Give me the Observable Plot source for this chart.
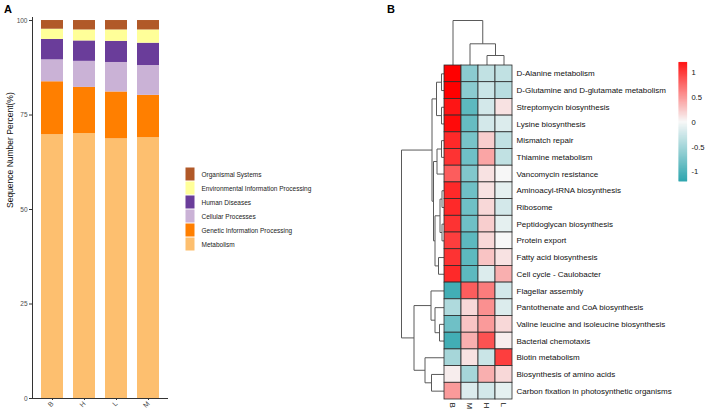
<!DOCTYPE html>
<html><head><meta charset="utf-8">
<script src="https://cdn.jsdelivr.net/npm/d3@7"></script>
<script src="https://cdn.jsdelivr.net/npm/@observablehq/plot@0.6"></script>
<style>
body{margin:0;background:#fff;font-family:"Liberation Sans",Arial,sans-serif;}
#wrap{position:relative;width:708px;height:416px;overflow:hidden;background:#fff}
.abs{position:absolute}
.abs svg{overflow:visible}
.tag{position:absolute;font-weight:bold;font-size:11px;font-family:"Liberation Sans",Arial,sans-serif}
</style></head><body>
<div id="wrap">
<div class="tag" style="left:4px;top:3px">A</div>
<div class="tag" style="left:387px;top:3px">B</div>
</div>
<script>
// ---------- Panel A data ----------
const samples = ["B","H","L","M"];
const categories = ["Metabolism","Genetic Information Processing","Cellular Processes","Human Diseases","Environmental Information Processing","Organismal Systems"]; // bottom -> top
const catColors = ["#FDBF6F","#FF7F00","#CAB2D6","#6A3D9A","#FFFF99","#B15928"];
const metabolism    = [69.8, 70.1, 68.7, 69.0];
const genetic       = [14.0, 12.2, 12.4, 11.2];
const cellular      = [5.8, 6.9, 7.8, 7.9];
const human         = [5.4, 5.4, 5.6, 5.9];
const environmental = [2.7, 2.9, 3.0, 3.5];
const organismal    = [2.3, 2.5, 2.5, 2.5];
const yTicksA = [0, 25, 50, 75, 100];
const yTitleA = "Sequence Number Percent(%)";

// ---------- Panel B data ----------
const pathways = ["D-Alanine metabolism","D-Glutamine and D-glutamate metabolism","Streptomycin biosynthesis","Lysine biosynthesis","Mismatch repair","Thiamine metabolism","Vancomycin resistance","Aminoacyl-tRNA biosynthesis","Ribosome","Peptidoglycan biosynthesis","Protein export","Fatty acid biosynthesis","Cell cycle - Caulobacter","Flagellar assembly","Pantothenate and CoA biosynthesis","Valine leucine and isoleucine biosynthesis","Bacterial chemotaxis","Biotin metabolism","Biosynthesis of amino acids","Carbon fixation in photosynthetic organisms"];
const hmColumns = ["B","M","H","L"];
const zB = [1.2, 1.2, 1.1, 1.15, 1.0, 0.95, 0.75, 1.0, 1.0, 0.95, 0.9, 0.95, 1.0, -1.0, -0.4, -0.75, -1.0, -0.45, 0.05, 0.45];
const zM = [-0.6, -0.6, -0.85, -0.8, -0.7, -0.75, -0.65, -0.75, -0.75, -0.75, -0.85, -0.85, -0.85, 0.75, 0.15, 0.25, 0.35, 0.1, -0.45, -0.15];
const zH = [-0.3, -0.25, -0.2, -0.2, 0.2, 0.4, 0.1, 0.1, 0.15, 0.2, 0.15, 0.25, -0.15, 0.6, 0.5, 0.45, 0.8, -0.25, 0.35, -0.2];
const zL = [-0.3, -0.35, 0.1, -0.15, -0.3, -0.3, 0.0, -0.1, -0.2, -0.1, 0.0, 0.1, 0.35, -0.2, -0.15, 0.15, 0.05, 0.9, 0.15, -0.1];
// hclust-style merges: negative = leaf (1-based), positive = earlier merge (1-based), then height
const rowMerges = [
  [-1,-2,3],[-3,-4,3],[1,2,8],[-5,-6,3],[4,-7,7.5],[-8,-9,2.5],[-10,-11,2.5],[6,7,4.5],
  [-12,-13,6],[8,9,9.5],[5,10,11],[3,11,12.5],[-16,-17,5],[-15,13,9.5],[-14,14,13.5],
  [-19,-20,13],[-18,16,19.5],[15,17,30.5],[12,18,43]
];
const colMerges = [[-3,-4,10],[-2,1,21.7],[-1,2,45]];
const legendTicks = [-1, -0.5, 0, 0.5, 1];

// ---------- helpers ----------
const colorSpec = {type:"linear", domain:[-1.2,0,1.2], range:["#1E9FA8","#F7F7F7","#FF0000"], clamp:true};
function dendroSegments(merges){
  const pos=[], hgt=[], segs=[];
  const P = k => k<0 ? (-k-1)+0.5 : pos[k-1];
  const H = k => k<0 ? 0 : hgt[k-1];
  merges.forEach(([a,b,h])=>{
    const pa=P(a), pb=P(b);
    segs.push({p1:pa,h1:H(a),p2:pa,h2:h});
    segs.push({p1:pb,h1:H(b),p2:pb,h2:h});
    segs.push({p1:pa,h1:h,p2:pb,h2:h});
    pos.push((pa+pb)/2); hgt.push(h);
  });
  return segs;
}
function place(node, left, top){
  const d=document.createElement("div"); d.className="abs";
  d.style.left=left+"px"; d.style.top=top+"px";
  d.appendChild(node); document.getElementById("wrap").appendChild(d);
}

// ---------- Panel A ----------
const series = [metabolism, genetic, cellular, human, environmental, organismal];
const stackData = samples.flatMap((s,i)=>categories.map((c,j)=>({sample:s, category:c, value:series[j][i]})));
const plotA = Plot.plot({
  width:175, height:416, marginLeft:32, marginRight:7, marginTop:17, marginBottom:18,
  style:{fontFamily:"'Liberation Sans',Arial,sans-serif", background:"transparent"},
  x:{domain:samples, paddingInner:0.3, paddingOuter:0.23},
  y:{domain:[0,100.8]},
  color:{domain:categories, range:catColors},
  marks:[
    Plot.barY(stackData,{x:"sample", y:"value", fill:"category", order:categories}),
    Plot.axisY({ticks:yTicksA, tickSize:3, tickPadding:2, fontSize:6.5, fill:"#4d4d4d", stroke:"#333", label:null}),
    Plot.axisX({tickRotate:-45, tickSize:2, tickPadding:2, fontSize:7, fill:"#4d4d4d", stroke:"#333", label:null}),
    Plot.ruleY([0],{stroke:"#333"}),
    Plot.frame({anchor:"left", stroke:"#333"}),
    Plot.text([yTitleA],{frameAnchor:"left", rotate:-90, dx:-22, fontSize:8.5, fill:"#111", text:d=>d})
  ]
});
place(plotA, 0, 0);

// legend A
const legendOrder = categories.slice().reverse();
const legA = Plot.plot({
  width:200, height:84, marginLeft:0, marginRight:0, marginTop:0, marginBottom:0,
  style:{fontFamily:"'Liberation Sans',Arial,sans-serif", background:"transparent"},
  x:{domain:["s"], range:[0,13], axis:null},
  y:{domain:legendOrder, range:[0,84], padding:0, axis:null},
  color:{domain:categories, range:catColors},
  marks:[
    Plot.cell(legendOrder,{x:()=>"s", y:d=>d, fill:d=>d, inset:0.5}),
    Plot.text(legendOrder,{y:d=>d, frameAnchor:"left", dx:18, textAnchor:"start", fontSize:6.5, fill:"#222", text:d=>d})
  ]
});
place(legA, 183, 167);

// ---------- Panel B ----------
const rowTreeUnits = 2.53, colTreeUnits = 2.695;
const maxRowH = d3.max(rowMerges, d=>d[2]), maxColH = d3.max(colMerges, d=>d[2]);
const kRow = rowTreeUnits/maxRowH, kCol = colTreeUnits/maxColH;
const rowSegs = dendroSegments(rowMerges), colSegs = dendroSegments(colMerges);
const zCols = [zB, zM, zH, zL];
const cells = pathways.flatMap((p,r)=>hmColumns.map((c,ci)=>({r, c:ci, v:zCols[ci][r]})));
const plotB = Plot.plot({
  width:328, height:416, marginLeft:21, marginRight:196, marginTop:20, marginBottom:17,
  style:{fontFamily:"'Liberation Sans',Arial,sans-serif", background:"transparent"},
  x:{domain:[-rowTreeUnits,4], axis:null},
  y:{domain:[20,-colTreeUnits], axis:null},
  color:colorSpec,
  marks:[
    Plot.link(rowSegs,{x1:d=>-d.h1*kRow, y1:"p1", x2:d=>-d.h2*kRow, y2:"p2", stroke:"#5a5a5a", strokeWidth:1}),
    Plot.link(colSegs,{x1:"p1", y1:d=>-d.h1*kCol, x2:"p2", y2:d=>-d.h2*kCol, stroke:"#5a5a5a", strokeWidth:1}),
    Plot.rect(cells,{x1:d=>d.c, x2:d=>d.c+1, y1:d=>d.r, y2:d=>d.r+1, fill:"v", stroke:"#2b2b2b", strokeWidth:0.8}),
    Plot.text(pathways,{x:4, y:(d,i)=>i+0.5, dx:4, textAnchor:"start", fontSize:8, fill:"#111", text:d=>d}),
    Plot.text(hmColumns,{x:(d,i)=>i+0.5, y:20, dy:3, rotate:90, textAnchor:"start", fontSize:8, fill:"#111", text:d=>d})
  ]
});
place(plotB, 380, 0);

// colour bar
const gradStep = 0.01;
const grad = d3.range(-1.2, 1.2, gradStep);
const bar = Plot.plot({
  width:40, height:200, marginLeft:9, marginRight:22, marginTop:65, marginBottom:9,
  style:{fontFamily:"'Liberation Sans',Arial,sans-serif", background:"transparent"},
  x:{domain:[0,1], axis:null},
  y:{domain:[-1.2,1.21]},
  color:colorSpec,
  marks:[
    Plot.rect(grad,{x1:0, x2:1, y1:d=>d, y2:d=>d+gradStep*1.6, fill:d=>d}),
    Plot.axisY({anchor:"right", ticks:legendTicks, tickSize:0, tickPadding:4, fontSize:8, fill:"#111", tickFormat:d=>String(d), label:null})
  ]
});
place(bar, 670, 0);
</script>
</body></html>
